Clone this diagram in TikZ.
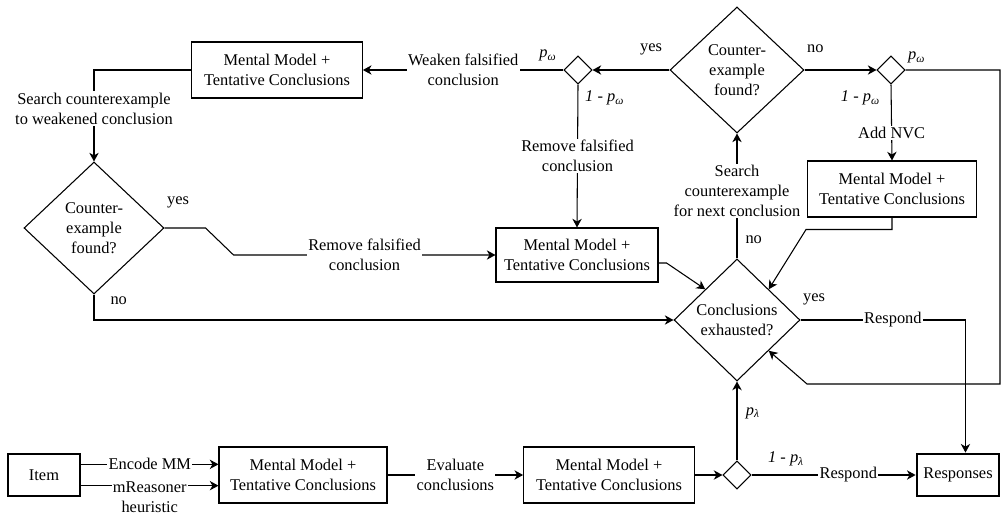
\documentclass[tikz,border=0pt]{standalone}
\usepackage{fontspec}
\setmainfont{Liberation Serif}
\usetikzlibrary{shapes.geometric,arrows.meta,positioning}
\begin{document}
\begin{tikzpicture}[x=0.75pt,y=-0.75pt,line width=0.8pt,
    font=\fontsize{12.3}{15}\selectfont,
    box/.style={draw, rectangle, align=center, minimum width=128pt, minimum height=42pt, inner sep=2pt},
    tbox/.style={draw, rectangle, line width=1.6pt, minimum height=32pt, inner sep=2pt},
    decide/.style={draw, diamond, align=center, inner sep=0pt},
    chance/.style={draw, diamond, minimum width=21pt, minimum height=21pt, inner sep=0pt},
    lbl/.style={fill=white, inner sep=1pt, align=center},
    txt/.style={inner sep=1.5pt},
    arr/.style={-{Stealth[length=6.5pt,width=7pt,inset=2pt]}}]
        \useasboundingbox (0,0) rectangle (1002,516);
        \node[box] (mmW) at (277,70) {Mental Model +\\Tentative Conclusions};
        \node[chance] (dW) at (578,70) {};
        \node[decide, minimum width=100.5pt, minimum height=94.5pt] (cfT) at (737,70) {Counter-\\example\\found?};
        \node[chance] (dN) at (891,70) {};
        \node[box, minimum width=127pt] (mmN) at (892,189) {Mental Model +\\Tentative Conclusions};
        \node[decide, minimum width=105pt, minimum height=99pt] (cfL) at (94,228) {Counter-\\example\\found?};
        \node[box, minimum width=121.5pt, minimum height=40.5pt] (mmR) at (577,255) {Mental Model +\\Tentative Conclusions};
        \node[decide, minimum width=94.5pt, minimum height=91.5pt] (ce) at (737,320) {Conclusions\\exhausted?};
        \node[tbox, minimum width=54pt] (item) at (44,475) {Item};
        \node[box, minimum width=126pt] (mmE) at (303,475) {Mental Model +\\Tentative Conclusions};
        \node[box] (mmV) at (609,475) {Mental Model +\\Tentative Conclusions};
        \node[chance] (dL) at (737,475) {};
        \node[tbox, minimum width=62pt] (resp) at (958,475) {Responses};
        \coordinate (rgt) at (1000,384);

        \draw[arr] (cfT.west) -- node[txt, pos=.24, anchor=south, yshift=9.5pt] {yes} (dW.east);
        \draw[arr] (dW.west) -- node[lbl] {Weaken falsified\\conclusion}
            node[txt, pos=0, anchor=south east, xshift=-3.5pt, yshift=4.5pt] {\textit{p\textsubscript{ω}}} (mmW.east);
        \draw[arr] (dW.south) -- node[lbl] {Remove falsified\\conclusion}
            node[txt, pos=0, anchor=north west, xshift=3.5pt, yshift=-3pt] {\textit{1 - p\textsubscript{ω}}} (mmR.north);
        \draw[arr] (mmW.west) -| node[lbl, pos=.71] {Search counterexample\\to weakened conclusion} (cfL.north);
        \draw[arr] (cfL.east) node[txt, anchor=south west, yshift=13pt] {yes}
            -- ++(41,0) -- ++(28,27) -- node[lbl] {Remove falsified\\conclusion} (mmR.west);
        \draw[arr] (cfL.south) node[txt, anchor=north west, xshift=10.5pt] {no} |- (ce.west);
        \draw[arr] (ce.north) -- node[lbl, pos=.54] {Search\\counterexample\\for next conclusion}
            node[txt, pos=.15, anchor=west, xshift=4.5pt] {no} (cfT.south);
        \draw[arr] (cfT.east) -- node[txt, pos=.15, anchor=south, yshift=11pt] {no} (dN.west);
        \draw[arr] (dN.south) -- node[lbl, pos=.64] {Add NVC}
            node[txt, pos=0, anchor=north east, xshift=-6.5pt, yshift=-3pt] {\textit{1 - p\textsubscript{ω}}} (mmN.north);
        \draw[arr] (dN.east) node[txt, anchor=south west, yshift=3pt] {\textit{p\textsubscript{ω}}}
            -- (rgt |- dN.east) -- (rgt) -- ++(-193,0) -- (ce.south east);
        \draw[arr] (mmN.south) -- ++(0,12) -- ++(-86,0) -- (ce.north east);
        \draw[arr] ([yshift=-6pt]mmR.east) -- ++(8,0) -- (ce.north west);
        \draw[arr] (ce.east) node[txt, anchor=south west, yshift=9.5pt] {yes}
            -| node[lbl, pos=.28] {Respond} ([xshift=5.6pt]resp.north);

        \draw[arr] ([yshift=8pt]item.east) -- node[lbl] {Encode MM} ([yshift=8pt]mmE.west);
        \draw[arr] ([yshift=-8pt]item.east) -- node[lbl, yshift=-9pt] {mReasoner\\heuristic} ([yshift=-8pt]mmE.west);
        \draw[arr] (mmE.east) -- node[lbl] {Evaluate\\conclusions} (mmV.west);
        \draw[arr, line width=1.4pt] (mmV.east) -- (dL.west);
        \draw[arr, line width=1.4pt] (dL.north) -- node[txt, pos=.6, anchor=west, xshift=4.5pt] {\textit{p\textsubscript{λ}}} (ce.south);
        \draw[arr] (dL.east) -- node[lbl, pos=.59] {Respond}
            node[txt, pos=.21, anchor=south, yshift=4.5pt] {\textit{1 - p\textsubscript{λ}}} (resp.west);
\end{tikzpicture}
\end{document}
